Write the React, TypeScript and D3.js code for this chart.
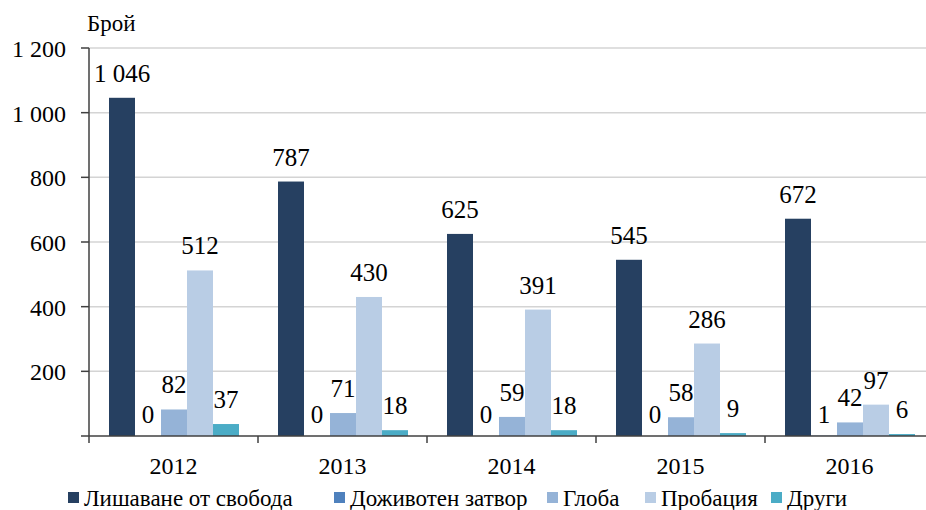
import React from "react";
import * as d3 from "d3";

const years = ["2012", "2013", "2014", "2015", "2016"];
const seriesNames = ["Лишаване от свобода", "Доживотен затвор", "Глоба", "Пробация", "Други"];
const imprisonment = [1046, 787, 625, 545, 672];
const lifeSentence = [0, 0, 0, 0, 1];
const fine = [82, 71, 59, 58, 42];
const probation = [512, 430, 391, 286, 97];
const other = [37, 18, 18, 9, 6];
const yTicks = [200, 400, 600, 800, 1000, 1200];
const colors = ["#264061", "#4f81bd", "#95b3d7", "#b9cde5", "#4bacc6"];

const seriesValues = [imprisonment, lifeSentence, fine, probation, other];

const fmt = (v: number) => String(v).replace(/\B(?=(\d{3})+(?!\d))/g, " ");

export default function App() {
  const W = 926, H = 510;
  const left = 89, top = 48, bottom = 436;
  const catW = 169;
  const x0 = d3.scaleBand<string>().domain(years).range([left, left + catW * years.length]);
  const x1 = d3.scaleBand<string>().domain(seriesNames).range([20, catW - 19]);
  const y = d3.scaleLinear().domain([0, 1200]).range([bottom, top]);
  const legendX = [68, 334, 547, 645, 771];
  const st = { fontFamily: '"Liberation Serif", "Times New Roman", Tinos, serif' };

  return (
    <svg width={W} height={H} style={{ display: "block", position: "absolute", left: 0, top: 0 }} fontFamily="Liberation Serif">
      <style>{`svg text { font-family: "Liberation Serif", "Times New Roman", Tinos, serif !important; }`}</style>
      <rect width={W} height={H} fill="#fff" />
      {yTicks.map((t) => (
        <line key={t} x1={left} x2={W} y1={y(t)} y2={y(t)} stroke="#d4d4d4" strokeWidth={1.5} />
      ))}
      {seriesValues.map((vals, si) =>
        vals.map((v, ci) => (
          <rect
            key={`${si}-${ci}`}
            x={x0(years[ci])! + x1(seriesNames[si])!}
            y={y(v)}
            width={x1.bandwidth()}
            height={bottom - y(v)}
            fill={colors[si]}
          />
        ))
      )}
      <line x1={left} x2={left} y1={top} y2={bottom + 7} stroke="#404040" strokeWidth={1.5} />
      <line x1={left - 8} x2={W} y1={bottom} y2={bottom} stroke="#404040" strokeWidth={1.5} />
      {yTicks.map((t) => (
        <line key={"yt" + t} x1={left - 8} x2={left} y1={y(t)} y2={y(t)} stroke="#404040" strokeWidth={1.5} />
      ))}
      {years.map((yr) => (
        <line key={"xt" + yr} x1={x0(yr)! + catW} x2={x0(yr)! + catW} y1={bottom} y2={bottom + 7} stroke="#404040" strokeWidth={1.5} />
      ))}
      {yTicks.map((t) => (
        <text key={"yl" + t} x={66} y={y(t) + 9} textAnchor="end" fontSize={24} style={st}>
          {fmt(t)}
        </text>
      ))}
      <text x={87} y={31} fontSize={23} style={st}>Брой</text>
      {years.map((yr) => (
        <text key={"xl" + yr} x={x0(yr)! + catW / 2} y={474} textAnchor="middle" fontSize={24} style={st}>
          {yr}
        </text>
      ))}
      {seriesValues.map((vals, si) =>
        vals.map((v, ci) => (
          <text
            key={`l${si}-${ci}`}
            x={x0(years[ci])! + x1(seriesNames[si])! + x1.bandwidth() / 2}
            y={y(v) - (v < 5 ? 13 : 16)}
            textAnchor="middle"
            fontSize={25}
            style={st}
          >
            {fmt(v)}
          </text>
        ))
      )}
      {seriesNames.map((n, i) => (
        <g key={"lg" + i}>
          <rect x={legendX[i]} y={492} width={11} height={11} fill={colors[i]} />
          <text x={legendX[i] + 16} y={506} fontSize={23} style={st}>{n}</text>
        </g>
      ))}
    </svg>
  );
}
